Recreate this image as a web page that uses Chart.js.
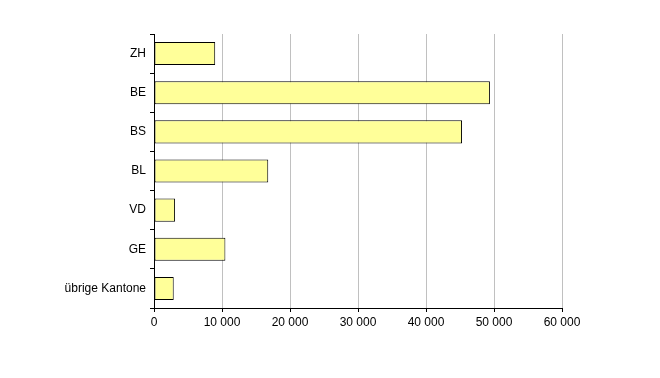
<!DOCTYPE html>
<html><head><meta charset="utf-8">
<script src="https://cdn.jsdelivr.net/npm/chart.js@4"></script>
<style>html,body{margin:0;padding:0;background:#fff}#wrap{width:660px;height:378px}</style>
</head><body><div id="wrap"><canvas id="c" width="660" height="378"></canvas></div>
<script>
const categories = ["ZH","BE","BS","BL","VD","GE","übrige Kantone"];
const values = [9000, 49400, 45300, 16800, 3100, 10500, 2900];
const xTicks = [0,10000,20000,30000,40000,50000,60000];
function fmt(v){return String(v).replace(/\B(?=(\d{3})+(?!\d))/g,' ');}
new Chart(document.getElementById('c'),{
  type:'bar',
  data:{labels:categories,datasets:[{data:values,backgroundColor:'#FFFF99',borderColor:'#000',borderWidth:1,borderSkipped:false,barPercentage:0.59,categoryPercentage:1}]},
  options:{
    indexAxis:'y',responsive:false,animation:false,
    layout:{padding:{top:34,right:98,bottom:0,left:0}},
    plugins:{legend:{display:false},tooltip:{enabled:false}},
    scales:{
      x:{min:0,max:60000,
        afterBuildTicks:s=>{s.ticks=xTicks.map(v=>({value:v}));},
        afterFit:s=>{s.height=70;},
        ticks:{color:'#000',font:{family:'Liberation Sans, Arial',size:12},padding:3,callback:v=>fmt(v),maxRotation:0},
        grid:{color:'#c0c0c0',tickColor:'#000',tickLength:4,lineWidth:1},
        border:{color:'#000',width:1}},
      y:{
        afterFit:s=>{s.width=154;},
        ticks:{color:'#000',font:{family:'Liberation Sans, Arial',size:12},padding:4},
        grid:{drawOnChartArea:false,offset:true,tickColor:'#000',tickLength:4},
        border:{color:'#000',width:1}}
    }
  }
});
</script></body></html>
